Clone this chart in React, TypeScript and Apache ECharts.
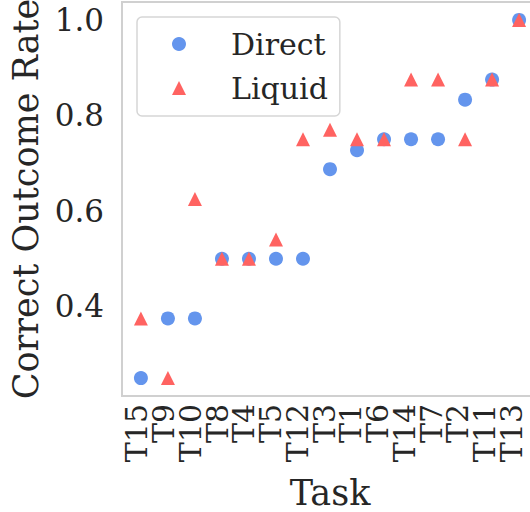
import React, { useEffect, useRef } from "react";
import * as echarts from "echarts";

// Tasks in plotted order (sorted by Direct rate)
const tasks = ["T15", "T9", "T10", "T8", "T4", "T5", "T12", "T3", "T1", "T6", "T14", "T7", "T2", "T11", "T13"];
const directRate = [0.25, 0.375, 0.375, 0.5, 0.5, 0.5, 0.5, 0.6875, 0.727, 0.75, 0.75, 0.75, 0.833, 0.875, 1.0];
const liquidRate = [0.375, 0.25, 0.625, 0.5, 0.5, 0.54, 0.75, 0.77, 0.75, 0.75, 0.875, 0.875, 0.75, 0.875, 1.0];
const yTicks = [0.4, 0.6, 0.8, 1.0];

const FONT = "DejaVu Serif";
const TEXT = "#262626";

// Plot frame geometry: x spans index -0.7 .. 14.7
const PLOT_LEFT = 122;
const PLOT_WIDTH = 416;
const X_MIN = -0.7;
const X_MAX = 14.7;

export default function App() {
  const ref = useRef<HTMLDivElement>(null);

  useEffect(() => {
    document.body.style.margin = "0";
    document.body.style.overflow = "hidden";
    if (!ref.current) return;
    const chart = echarts.init(ref.current, null, { renderer: "svg" });

    // Label grid: one category band per task, centred under the markers
    const unit = PLOT_WIDTH / (X_MAX - X_MIN);
    const labelUnit = unit * 0.99;
    const labelLeft = PLOT_LEFT + (0 - X_MIN) * unit - labelUnit / 2 - 4;
    const labelWidth = labelUnit * tasks.length;

    chart.setOption({
      animation: false,
      backgroundColor: "#ffffff",
      grid: [
        {
          left: PLOT_LEFT,
          top: 2,
          width: PLOT_WIDTH,
          height: 394,
          outerBoundsMode: "none",
          containLabel: false,
          show: true,
          borderColor: "#d0d0d0",
          borderWidth: 2,
          backgroundColor: "transparent",
        },
        {
          left: labelLeft,
          top: 2,
          width: labelWidth,
          height: 394,
          outerBoundsMode: "none",
          containLabel: false,
          show: false,
        },
      ],
      legend: {
        orient: "vertical",
        left: 137,
        top: 17,
        padding: [12, 12, 13, 35],
        itemWidth: 14,
        itemHeight: 14,
        itemGap: 14,
        borderColor: "#d6d6d6",
        borderWidth: 1.5,
        borderRadius: 5,
        backgroundColor: "#ffffff",
        textStyle: {
          fontFamily: FONT,
          fontSize: 30,
          color: TEXT,
          lineHeight: 30,
          padding: [0, 0, 0, 40],
        },
        data: [
          { name: "Direct", icon: "circle" },
          { name: "Liquid", icon: "triangle" },
        ],
      },
      xAxis: [
        {
          type: "value",
          gridIndex: 0,
          min: X_MIN,
          max: X_MAX,
          name: "Task",
          nameLocation: "middle",
          nameGap: 80,
          nameTextStyle: {
            fontFamily: FONT,
            fontSize: 35,
            lineHeight: 34,
            color: TEXT,
            verticalAlign: "top",
          },
          axisLine: { show: false },
          axisTick: { show: false },
          splitLine: { show: false },
          axisLabel: { show: false },
        },
        {
          type: "category",
          gridIndex: 1,
          data: tasks,
          boundaryGap: true,
          axisLine: { show: false },
          axisTick: { show: false },
          splitLine: { show: false },
          axisLabel: {
            interval: 0,
            rotate: 90,
            margin: 8,
            fontFamily: FONT,
            fontSize: 30,
            color: TEXT,
          },
        },
      ],
      yAxis: [
        {
          type: "value",
          gridIndex: 0,
          min: 0.2125,
          max: 1.0375,
          name: "Correct Outcome Rate",
          nameLocation: "middle",
          nameGap: 72,
          nameTextStyle: { fontFamily: FONT, fontSize: 35, color: TEXT },
          axisLine: { show: false },
          axisTick: { show: false },
          splitLine: { show: false },
          axisLabel: {
            customValues: yTicks,
            showMinLabel: true,
            showMaxLabel: true,
            margin: 18,
            fontFamily: FONT,
            fontSize: 31,
            color: TEXT,
            formatter: (v: number) => v.toFixed(1),
          },
        },
        {
          type: "value",
          gridIndex: 1,
          show: false,
          min: 0.2125,
          max: 1.0375,
        },
      ],
      series: [
        {
          name: "Direct",
          type: "scatter",
          xAxisIndex: 0,
          yAxisIndex: 0,
          symbol: "circle",
          symbolSize: 14,
          itemStyle: { color: "#6495ed", opacity: 1 },
          data: directRate.map((v, i) => [i, v]),
        },
        {
          name: "Liquid",
          type: "scatter",
          xAxisIndex: 0,
          yAxisIndex: 0,
          symbol: "triangle",
          symbolSize: 14,
          itemStyle: { color: "#ff6361", opacity: 1 },
          data: liquidRate.map((v, i) => [i, v]),
        },
      ],
    });
    return () => chart.dispose();
  }, []);

  return <div ref={ref} style={{ width: 540, height: 512 }} />;
}
